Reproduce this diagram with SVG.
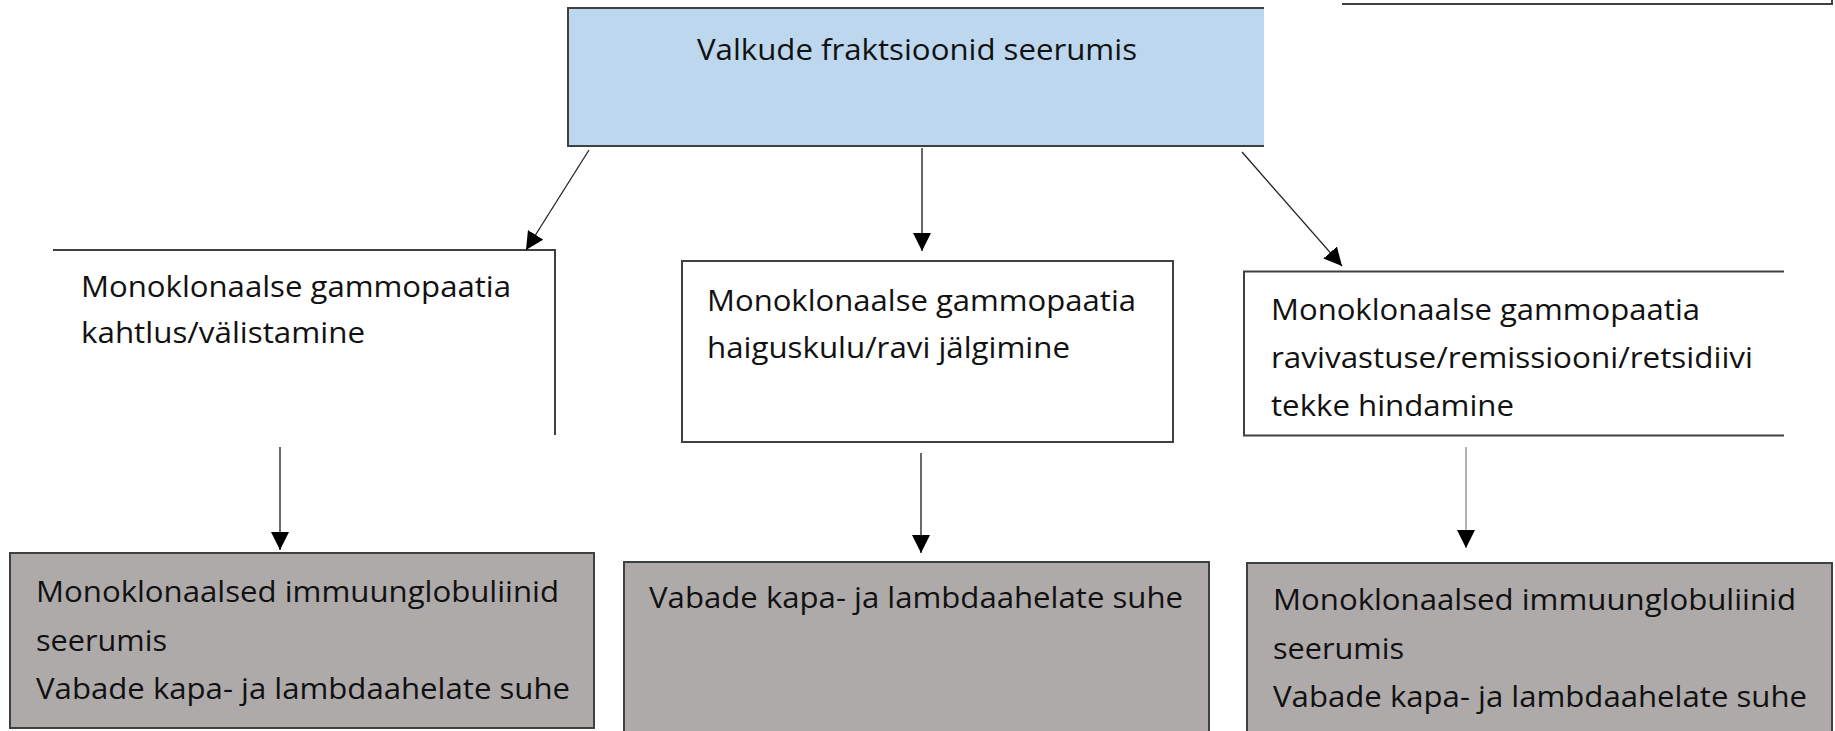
<svg xmlns="http://www.w3.org/2000/svg" width="1835" height="731" viewBox="0 0 1835 731">
<style>
  text { font-family: "Open Sans", "Noto Sans", "Liberation Sans", sans-serif; font-size: 28.5px; fill: #111; }
  .edge { stroke: #404040; stroke-width: 2; fill: none; }
  .conn { stroke: #444; stroke-width: 1.6; fill: none; }
  .diag { stroke: #222; stroke-width: 1.3; fill: none; }
  .light { stroke: #9a9a9a; stroke-width: 1.5; fill: none; }
  .gray { fill: #AEAAAA; stroke: #404040; stroke-width: 2; }
</style>
<defs>
  <marker id="ah" markerUnits="userSpaceOnUse" markerWidth="18" markerHeight="18" refX="18" refY="9" orient="auto">
    <path d="M0,0 L18,9 L0,18 z" fill="#000"/>
  </marker>
</defs>
<rect width="1835" height="731" fill="#fff"/>

<g id="corner-box">
  <path class="edge" d="M1342,4 H1832 V0"/>
</g>

<g id="top">
  <rect x="568" y="8" width="696" height="138" fill="#BDD7EE"/>
  <path class="edge" d="M1264,8 H568 V146 H1264"/>
  <text x="697" y="60" textLength="440" lengthAdjust="spacingAndGlyphs">Valkude fraktsioonid seerumis</text>
</g>

<g id="left-mid">
  <rect x="53" y="250" width="502" height="185" fill="#fff"/>
  <path class="edge" d="M53,250 H555 V435"/>
  <text x="81" y="297" textLength="430" lengthAdjust="spacingAndGlyphs">Monoklonaalse gammopaatia</text>
  <text x="81" y="343" textLength="284" lengthAdjust="spacingAndGlyphs">kahtlus/välistamine</text>
</g>

<g id="mid-mid">
  <rect x="682" y="261" width="491" height="181" fill="#fff" class="edge"/>
  <text x="707" y="311" textLength="429" lengthAdjust="spacingAndGlyphs">Monoklonaalse gammopaatia</text>
  <text x="707" y="358" textLength="363" lengthAdjust="spacingAndGlyphs">haiguskulu/ravi jälgimine</text>
</g>

<g id="right-mid">
  <rect x="1244" y="271.5" width="540" height="164" fill="#fff"/>
  <path class="edge" d="M1784,271.5 H1244 V435.5 H1784"/>
  <text x="1271" y="320" textLength="429" lengthAdjust="spacingAndGlyphs">Monoklonaalse gammopaatia</text>
  <text x="1271" y="368" textLength="482" lengthAdjust="spacingAndGlyphs">ravivastuse/remissiooni/retsidiivi</text>
  <text x="1271" y="416" textLength="243" lengthAdjust="spacingAndGlyphs">tekke hindamine</text>
</g>

<g id="left-bottom">
  <rect class="gray" x="10" y="553" width="584" height="175"/>
  <text x="36" y="601.5" textLength="523" lengthAdjust="spacingAndGlyphs">Monoklonaalsed immuunglobuliinid</text>
  <text x="36" y="650.5" textLength="131" lengthAdjust="spacingAndGlyphs">seerumis</text>
  <text x="36" y="699" textLength="534" lengthAdjust="spacingAndGlyphs">Vabade kapa- ja lambdaahelate suhe</text>
</g>

<g id="mid-bottom">
  <rect class="gray" x="624" y="562" width="585" height="180"/>
  <text x="649" y="608" textLength="534" lengthAdjust="spacingAndGlyphs">Vabade kapa- ja lambdaahelate suhe</text>
</g>

<g id="right-bottom">
  <rect class="gray" x="1247" y="563" width="585" height="180"/>
  <text x="1273" y="610" textLength="523" lengthAdjust="spacingAndGlyphs">Monoklonaalsed immuunglobuliinid</text>
  <text x="1273" y="659" textLength="131" lengthAdjust="spacingAndGlyphs">seerumis</text>
  <text x="1273" y="707" textLength="534" lengthAdjust="spacingAndGlyphs">Vabade kapa- ja lambdaahelate suhe</text>
</g>

<g id="connectors">
  <line class="diag" x1="589" y1="150" x2="526" y2="250" marker-end="url(#ah)"/>
  <line class="conn" x1="922" y1="148" x2="922" y2="251" marker-end="url(#ah)"/>
  <line class="diag" x1="1242" y1="152" x2="1342" y2="266" marker-end="url(#ah)"/>
  <line class="conn" x1="280" y1="447" x2="280" y2="550" marker-end="url(#ah)"/>
  <line class="conn" x1="921" y1="453" x2="921" y2="553" marker-end="url(#ah)"/>
  <line class="light" x1="1466" y1="447" x2="1466" y2="548" marker-end="url(#ah)"/>
</g>
</svg>
